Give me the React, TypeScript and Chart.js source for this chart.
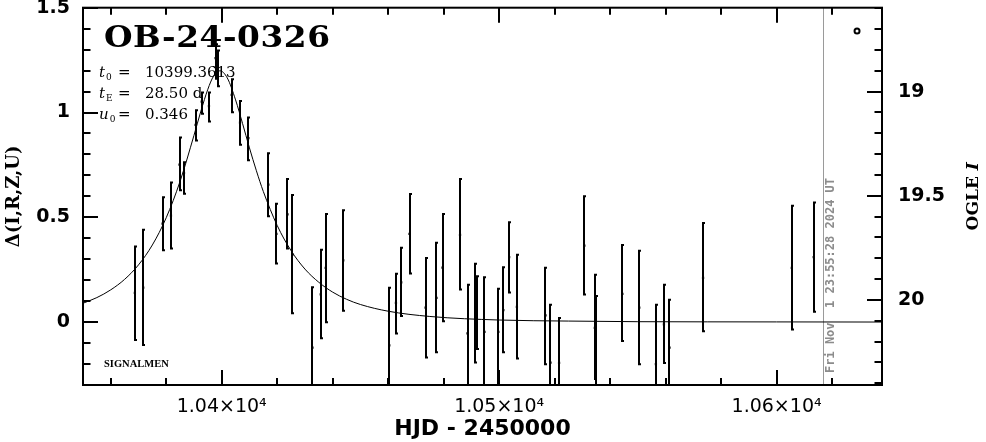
import React, { useEffect, useRef } from "react";
import { Chart, registerables } from "chart.js";

Chart.register(...registerables);

// ---- data ----
const hjd = [
  10368.7, 10371.7, 10378.7, 10381.7, 10384.8, 10386.4, 10390.6, 10392.8, 10395.4, 10397.8,
  10398.6, 10403.6, 10406.6, 10409.6, 10416.8, 10419.7, 10423.7, 10425.5, 10432.7, 10435.7,
  10437.5, 10443.8, 10460.4, 10462.8, 10464.7, 10467.7, 10473.5, 10477.4, 10479.6, 10485.9,
  10488.6, 10491.4, 10491.9, 10494.7, 10499.7, 10501.5, 10503.6, 10506.4, 10516.7, 10518.5,
  10521.6, 10530.7, 10534.5, 10534.8, 10544.4, 10550.5, 10556.5, 10559.4, 10561.4, 10573.5,
  10605.5, 10613.4,
];
const delta = [
  0.14, 0.164, 0.47, 0.508, 0.751, 0.711, 0.941, 1.052, 1.03, 1.26,
  1.22, 1.084, 0.952, 0.878, 0.656, 0.421, 0.514, 0.322, -0.122, 0.132,
  0.259, 0.294, -0.111, 0.092, 0.19, 0.421, 0.069, 0.116, 0.26, 0.416,
  -0.054, 0.076, 0.046, -0.046, -0.046, 0.057, 0.31, 0.073, 0.032, -0.193,
  -0.195, 0.365, -0.027, -0.084, 0.135, 0.069, -0.2, -0.011, -0.122, 0.211,
  0.259, 0.31,
];
const deltaHi = [
  0.366, 0.446, 0.6, 0.671, 0.886, 0.767, 1.016, 1.1, 1.1, 1.33,
  1.3, 1.164, 1.06, 0.981, 0.81, 0.569, 0.688, 0.611, 0.171, 0.35,
  0.521, 0.538, 0.169, 0.235, 0.359, 0.616, 0.311, 0.383, 0.521, 0.688,
  0.183, 0.283, 0.223, 0.219, 0.164, 0.267, 0.481, 0.326, 0.264, 0.088,
  0.024, 0.605, 0.231, 0.129, 0.373, 0.345, 0.088, 0.183, 0.111, 0.478,
  0.56, 0.576,
];
const deltaLo = [
  -0.09, -0.114, 0.338, 0.346, 0.624, 0.608, 0.862, 0.989, 0.952, 1.156,
  1.12, 0.997, 0.841, 0.767, 0.5, 0.275, 0.346, 0.037, -0.42, -0.082,
  -0.006, 0.05, -0.39, -0.059, 0.024, 0.227, -0.173, -0.148, -0.001, 0.151,
  -0.32, -0.197, -0.133, -0.32, -0.32, -0.148, 0.137, -0.178, -0.206, -0.45,
  -0.45, 0.127, -0.276, -0.32, -0.095, -0.206, -0.45, -0.2, -0.4, -0.048,
  -0.04, 0.045,
];

// model light curve
const modelHjd = [
  10350, 10355, 10360, 10365, 10370, 10375, 10380, 10385, 10390, 10392.5,
  10395, 10397, 10399.36, 10402, 10405, 10407.5, 10410, 10412.5, 10415, 10420,
  10425, 10430, 10435, 10440, 10445, 10450, 10460, 10475, 10500, 10525,
  10550, 10600, 10638,
];
const modelDelta = [
  0.09, 0.117, 0.154, 0.204, 0.273, 0.368, 0.498, 0.672, 0.891, 1.007,
  1.111, 1.172, 1.199, 1.165, 1.06, 0.948, 0.831, 0.722, 0.623, 0.461,
  0.341, 0.253, 0.19, 0.143, 0.109, 0.084, 0.052, 0.027, 0.01, 0.005,
  0.002, 0.001, 0.0004,
];

const oglePoint = [{ x: 10629, y: 1.389 }];

const xMajorTicks = [10400, 10500, 10600];
const yLeftTicks = [0, 0.5, 1, 1.5];
const yRightTicks = [19, 19.5, 20];

const eventName = "OB-24-0326";
const paramLines = [
  { sym: "t", sub: "0", value: "10399.3613" },
  { sym: "t", sub: "E", value: "28.50 d" },
  { sym: "u", sub: "0", value: "0.346" },
];
const groupName = "SIGNALMEN";
const dateStampHjd = 10616.7;
const dateStamp = "Fri Nov  1 23:55:28 2024 UT";
const rightTitleMain = "OGLE ";
const rightTitleItalic = "I";

const X_MIN = 10350;
const X_MAX = 10638;
const Y_MIN = -0.3;
const Y_MAX = 1.5;
const MAG_TOP = 18.597;
const MAG_BOTTOM = 20.408;

const overlayPlugin = {
  id: "overlay",
  beforeDatasetsDraw(chart: any) {
    const { ctx, chartArea: a, scales } = chart;
    const x = scales.x;
    const y = scales.y;
    ctx.save();
    ctx.beginPath();
    ctx.rect(a.left, a.top, a.right - a.left, a.bottom - a.top);
    ctx.clip();
    // date marker line
    const gx = Math.round(x.getPixelForValue(dateStampHjd)) + 0.5;
    ctx.strokeStyle = "#9a9a9a";
    ctx.lineWidth = 1;
    ctx.beginPath();
    ctx.moveTo(gx, a.top);
    ctx.lineTo(gx, a.bottom);
    ctx.stroke();
    // error bars
    ctx.strokeStyle = "#000";
    ctx.lineWidth = 2;
    hjd.forEach((t, i) => {
      const px = Math.round(x.getPixelForValue(t));
      const yt = y.getPixelForValue(deltaHi[i]);
      const yb = y.getPixelForValue(deltaLo[i]);
      ctx.beginPath();
      ctx.moveTo(px, yt);
      ctx.lineTo(px, yb);
      ctx.moveTo(px - 1, yt + 1);
      ctx.lineTo(px + 2, yt + 1);
      ctx.moveTo(px - 1, yb - 1);
      ctx.lineTo(px + 2, yb - 1);
      ctx.stroke();
    });
    ctx.restore();
  },
  afterDraw(chart: any) {
    const { ctx, chartArea: a, scales } = chart;
    const x = scales.x;
    const y = scales.y;
    const y2 = scales.y2;
    ctx.save();
    ctx.strokeStyle = "#000";
    ctx.lineWidth = 2;
    // frame
    ctx.strokeRect(a.left, a.top, a.right - a.left, a.bottom - a.top);
    // inward ticks
    ctx.beginPath();
    for (let v = 10360; v <= X_MAX; v += 20) {
      const px = Math.round(x.getPixelForValue(v));
      const len = v % 100 === 0 ? 15 : 7;
      ctx.moveTo(px, a.bottom);
      ctx.lineTo(px, a.bottom - len);
      ctx.moveTo(px, a.top);
      ctx.lineTo(px, a.top + len);
    }
    for (let k = -2; k <= 15; k++) {
      const v = k / 10;
      const py = Math.round(y.getPixelForValue(v));
      const len = k % 5 === 0 ? 15 : 7.5;
      ctx.moveTo(a.left, py);
      ctx.lineTo(a.left + len, py);
    }
    for (let k = 186; k <= 204; k++) {
      const v = k / 10;
      const py = Math.round(y2.getPixelForValue(v));
      const len = k % 5 === 0 ? 15 : 7.5;
      ctx.moveTo(a.right, py);
      ctx.lineTo(a.right - len, py);
    }
    ctx.stroke();

    // event name (slightly widened, like the plotted font)
    ctx.fillStyle = "#000";
    ctx.textBaseline = "alphabetic";
    ctx.textAlign = "left";
    ctx.save();
    ctx.translate(104, 47);
    ctx.scale(1.13, 1);
    (ctx as any).letterSpacing = "0.5px";
    ctx.font = "bold 29px 'DejaVu Serif'";
    ctx.fillText(eventName, 0, 0);
    (ctx as any).letterSpacing = "0px";
    ctx.restore();

    // parameters
    paramLines.forEach((p, i) => {
      const base = 77 + i * 21;
      ctx.font = "italic 15px 'DejaVu Serif'";
      ctx.fillText(p.sym, 99, base);
      const w = ctx.measureText(p.sym).width;
      ctx.font = "9px 'DejaVu Serif'";
      ctx.fillText(p.sub, 99 + w + 1, base + 3);
      ctx.font = "15px 'DejaVu Serif'";
      ctx.fillText("=", 118, base);
      ctx.fillText(p.value, 145, base);
    });

    // group name
    ctx.font = "bold 10.5px 'Liberation Serif'";
    ctx.fillText(groupName, 104, 366.5);

    // date stamp
    ctx.save();
    ctx.fillStyle = "#8c8c8c";
    ctx.font = "bold 12px 'DejaVu Sans Mono'";
    ctx.translate(x.getPixelForValue(dateStampHjd) + 8, 373);
    ctx.rotate(-Math.PI / 2);
    ctx.textBaseline = "middle";
    ctx.fillText(dateStamp, 0, 0);
    ctx.restore();

    // right axis title
    ctx.save();
    ctx.fillStyle = "#000";
    ctx.translate(974, (a.top + a.bottom) / 2);
    ctx.rotate(-Math.PI / 2);
    ctx.textBaseline = "middle";
    ctx.font = "bold 17px 'DejaVu Serif'";
    const w1 = ctx.measureText(rightTitleMain).width;
    ctx.font = "bold italic 17px 'DejaVu Serif'";
    const w2 = ctx.measureText(rightTitleItalic).width;
    const start = -(w1 + w2) / 2;
    ctx.font = "bold 17px 'DejaVu Serif'";
    ctx.fillText(rightTitleMain, start, 0);
    ctx.font = "bold italic 17px 'DejaVu Serif'";
    ctx.fillText(rightTitleItalic, start + w1, 0);
    ctx.restore();

    ctx.restore();
  },
};

export default function App() {
  const canvasRef = useRef<HTMLCanvasElement | null>(null);

  useEffect(() => {
    if (!canvasRef.current) return;
    const points = hjd.map((t, i) => ({ x: t, y: delta[i] }));
    const model = modelHjd.map((t, i) => ({ x: t, y: modelDelta[i] }));
    const chart = new Chart(canvasRef.current, {
      type: "scatter",
      data: {
        datasets: [
          {
            data: model,
            showLine: true,
            borderColor: "#000",
            borderWidth: 1,
            pointRadius: 0,
            cubicInterpolationMode: "monotone",
          } as any,
          {
            data: points,
            pointStyle: "rect",
            pointRadius: 1.6,
            backgroundColor: "#000",
            borderColor: "#000",
            borderWidth: 0,
          },
          {
            data: oglePoint,
            pointStyle: "circle",
            pointRadius: 2.5,
            backgroundColor: "#fff",
            borderColor: "#000",
            borderWidth: 2,
          },
        ],
      },
      options: {
        animation: false,
        responsive: false,
        devicePixelRatio: 1,
        layout: { padding: { top: 7.7, left: 0, right: 0, bottom: 0 } },
        plugins: { legend: { display: false }, tooltip: { enabled: false } },
        scales: {
          x: {
            type: "linear",
            min: X_MIN,
            max: X_MAX,
            grid: { display: false, drawTicks: false },
            border: { display: false },
            afterFit: (s: any) => {
              s.height = 57;
              s.paddingLeft = 0;
              s.paddingRight = 0;
            },
            afterBuildTicks: (s: any) => {
              s.ticks = xMajorTicks.map((v) => ({ value: v }));
            },
            ticks: {
              autoSkip: false,
              maxRotation: 0,
              padding: 11,
              color: "#000",
              font: { family: "'DejaVu Sans'", size: 19 },
              callback: (v: any) => (Number(v) / 1e4).toFixed(2) + "×10⁴",
            },
            title: {
              display: true,
              text: "HJD - 2450000",
              color: "#000",
              font: { family: "'DejaVu Sans'", size: 22, weight: "bold" },
              padding: { top: 0, bottom: 0 },
            },
          },
          y: {
            type: "linear",
            position: "left",
            min: Y_MIN,
            max: Y_MAX,
            grid: { display: false, drawTicks: false },
            border: { display: false },
            afterFit: (s: any) => {
              s.width = 83;
              s.paddingTop = 0;
              s.paddingBottom = 0;
            },
            afterBuildTicks: (s: any) => {
              s.ticks = yLeftTicks.map((v) => ({ value: v }));
            },
            ticks: {
              autoSkip: false,
              padding: 13,
              color: "#000",
              font: { family: "'DejaVu Sans'", size: 19, weight: "bold" },
              callback: (v: any) => String(v),
            },
            title: {
              display: true,
              text: "Δ(I,R,Z,U)",
              color: "#000",
              font: { family: "'DejaVu Serif'", size: 18, weight: "bold" },
              padding: { top: 3.7, bottom: 0 },
            },
          },
          y2: {
            type: "linear",
            position: "right",
            reverse: true,
            min: MAG_TOP,
            max: MAG_BOTTOM,
            grid: { display: false, drawTicks: false },
            border: { display: false },
            afterFit: (s: any) => {
              s.width = 104;
              s.paddingTop = 0;
              s.paddingBottom = 0;
            },
            afterBuildTicks: (s: any) => {
              s.ticks = yRightTicks.map((v) => ({ value: v }));
            },
            ticks: {
              autoSkip: false,
              padding: 16,
              color: "#000",
              font: { family: "'DejaVu Sans'", size: 19, weight: "bold" },
              callback: (v: any) => String(v),
            },
          },
        },
      },
      plugins: [overlayPlugin],
    });
    return () => chart.destroy();
  }, []);

  return (
    <div style={{ position: "absolute", left: 0, top: 0, width: 986, height: 442, background: "#fff" }}>
      <canvas ref={canvasRef} width={986} height={442} style={{ display: "block" }} />
    </div>
  );
}
